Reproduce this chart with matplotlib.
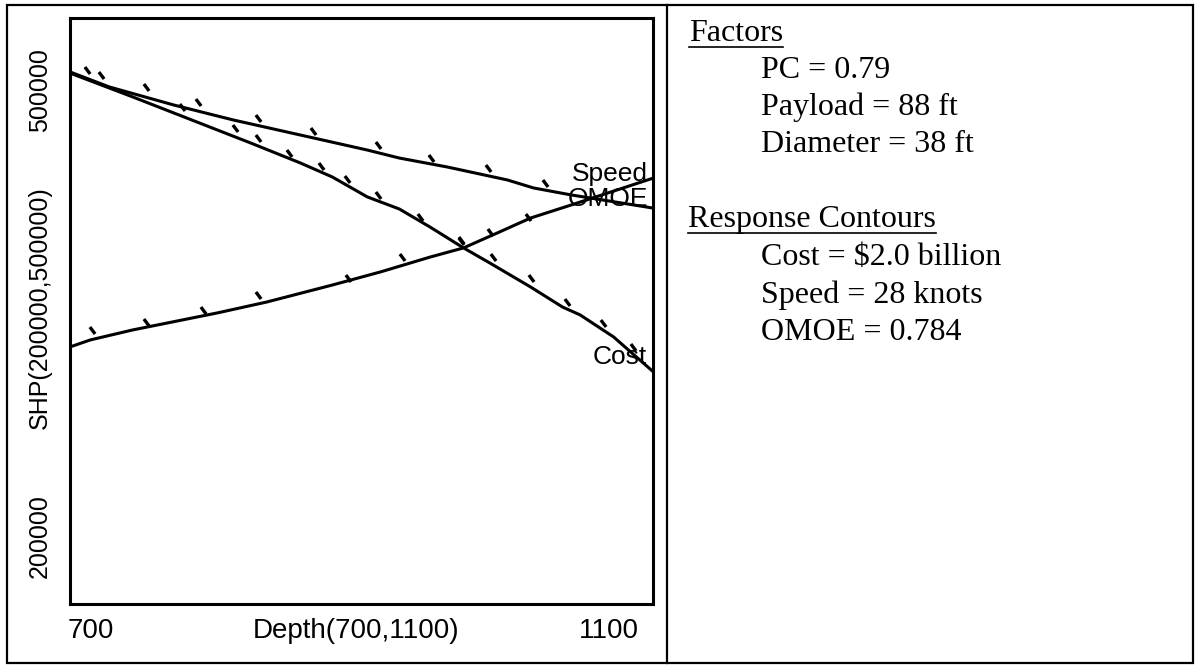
import matplotlib.pyplot as plt
from matplotlib.path import Path
from matplotlib.patches import Rectangle
from matplotlib.lines import Line2D

# --------------------------------------------------------------
# Contour data (Depth in ft, SHP in hp)
# --------------------------------------------------------------

speed_depth = [700, 727, 771, 812, 867, 904, 926, 959, 1000, 1018, 1044, 1070, 1100]
speed_shp = [472400, 464700, 455500, 447800, 438600, 432400, 428300, 423700,
             417100, 413000, 409400, 406300, 402700]

cost_depth = [700, 743, 789, 824, 858, 880, 904, 926, 947, 970, 988, 1016,
              1038, 1050, 1073, 1100]
cost_shp = [471800, 459600, 446200, 436000, 425800, 418600, 408400, 402200,
            393000, 382300, 374600, 362300, 352000, 348000, 336700, 319000]

omoe_depth = [700, 714, 743, 801, 835, 880, 913, 947, 970, 993, 1016, 1044, 1100]
omoe_shp = [331600, 335200, 340300, 349000, 354600, 363300, 370000, 377600,
            382300, 389900, 397600, 404300, 418000]

# hash marks on the feasible side of each contour
speed_hash_depth = [712, 752, 788, 829, 867, 911, 948, 987, 1026]
speed_hash_shp = [473400, 464700, 457000, 448800, 442200, 435000, 428300,
                  423200, 415500]

cost_hash_depth = [721, 777, 813, 829, 850, 872, 890, 911, 940, 968, 990,
                   1016, 1041, 1066, 1086]
cost_hash_shp = [470800, 454400, 443700, 438600, 430900, 424200, 417600,
                 409400, 398100, 385800, 377600, 366900, 354600, 343900, 331600]

omoe_hash_depth = [715, 752, 791, 829, 891, 928, 968, 988, 1014, 1026]
omoe_hash_shp = [340300, 344400, 350500, 358200, 366900, 377600, 386300,
                 390400, 398100, 401200]

factors = ["PC = 0.79", "Payload = 88 ft", "Diameter = 38 ft"]
responses = ["Cost = $2.0 billion", "Speed = 28 knots", "OMOE = 0.784"]

# --------------------------------------------------------------
# Figure layout
# --------------------------------------------------------------

W, H = 1196, 665
fig = plt.figure(figsize=(W / 100, H / 100), dpi=100)


def fx(px):
    return px / W


def fy(py):
    return 1 - py / H


sans = "Liberation Sans"
serif = "Liberation Serif"

ax = fig.add_axes([fx(70), fy(604), fx(653) - fx(70), fy(18) - fy(604)])
ax.set_xlim(700, 1100)
ax.set_ylim(200000, 500000)
ax.set_xticks([])
ax.set_yticks([])
for s in ax.spines.values():
    s.set_linewidth(2.2)

# --------------------------------------------------------------
# Contour lines
# --------------------------------------------------------------

hash_marker = Path([(-0.6, 0.8), (0.6, -0.8)], [Path.MOVETO, Path.LINETO])

for d, s in [(speed_depth, speed_shp), (cost_depth, cost_shp), (omoe_depth, omoe_shp)]:
    ax.plot(d, s, color="black", lw=2.2)

for d, s in [(speed_hash_depth, speed_hash_shp), (cost_hash_depth, cost_hash_shp),
             (omoe_hash_depth, omoe_hash_shp)]:
    ax.plot(d, s, ls="none", marker=hash_marker, markersize=5,
            markeredgewidth=2.4, color="black", markevery=0.03)

ax.annotate("Speed", xy=(speed_depth[-1], speed_shp[-1]), xytext=(-3.6, 24.5),
            textcoords="offset points", ha="right", va="center",
            fontsize=19, family=sans)
ax.annotate("OMOE", xy=(omoe_depth[-1], omoe_shp[-1]), xytext=(-3.6, -15),
            textcoords="offset points", ha="right", va="center",
            fontsize=19, family=sans)
ax.annotate("Cost", xy=(cost_depth[-1], cost_shp[-1]), xytext=(-4.3, 10.5),
            textcoords="offset points", ha="right", va="center",
            fontsize=19, family=sans)

# --------------------------------------------------------------
# Axis labels
# --------------------------------------------------------------

ax.annotate("700", xy=(700, 0), xycoords=("data", "axes fraction"),
            xytext=(-1.5, -19.5), textcoords="offset points",
            ha="left", va="center", fontsize=20, family=sans)
ax.annotate("1100", xy=(1100, 0), xycoords=("data", "axes fraction"),
            xytext=(-10, -19.5), textcoords="offset points",
            ha="right", va="center", fontsize=20, family=sans)
ax.annotate("Depth(700,1100)", xy=(0.49, 0), xycoords="axes fraction",
            xytext=(0, -19.5), textcoords="offset points",
            ha="center", va="center", fontsize=20, family=sans)

ax.annotate("500000", xy=(0, 500000), xycoords=("axes fraction", "data"),
            xytext=(-21.5, -21.5), textcoords="offset points", rotation=90,
            ha="center", va="top", fontsize=18, family=sans)
ax.annotate("200000", xy=(0, 200000), xycoords=("axes fraction", "data"),
            xytext=(-21.5, 18.5), textcoords="offset points", rotation=90,
            ha="center", va="bottom", fontsize=18, family=sans)
ax.annotate("SHP(200000,500000)", xy=(0, 0.505), xycoords="axes fraction",
            xytext=(-21.5, 0), textcoords="offset points", rotation=90,
            ha="center", va="center", fontsize=18, family=sans)

# --------------------------------------------------------------
# Side panel text
# --------------------------------------------------------------

headings = []
headings.append(fig.text(fx(689), fy(41), "Factors", family=serif,
                         fontsize=23, va="baseline"))
for i, line in enumerate(factors):
    fig.text(fx(761), fy(78 + i * 37.2), line, family=serif, fontsize=23,
             va="baseline")

headings.append(fig.text(fx(688), fy(227), "Response Contours", family=serif,
                         fontsize=23, va="baseline"))
for i, line in enumerate(responses):
    fig.text(fx(761), fy(265 + i * 37.5), line, family=serif, fontsize=23,
             va="baseline")

fig.canvas.draw()
renderer = fig.canvas.get_renderer()
for t, uy in zip(headings, [47, 233]):
    bb = t.get_window_extent(renderer)
    fig.add_artist(Line2D([bb.x0 / W, bb.x1 / W], [fy(uy), fy(uy)],
                          transform=fig.transFigure, color="black", lw=1.2))

# --------------------------------------------------------------
# Frame and divider
# --------------------------------------------------------------

fig.add_artist(Rectangle((fx(7), fy(663)), fx(1193) - fx(7), fy(5) - fy(663),
                         transform=fig.transFigure, fill=False,
                         ec="black", lw=1.6))
fig.add_artist(Line2D([fx(667), fx(667)], [fy(5), fy(663)],
                      transform=fig.transFigure, color="black", lw=1.6))

fig.savefig("out.png", dpi=100)
